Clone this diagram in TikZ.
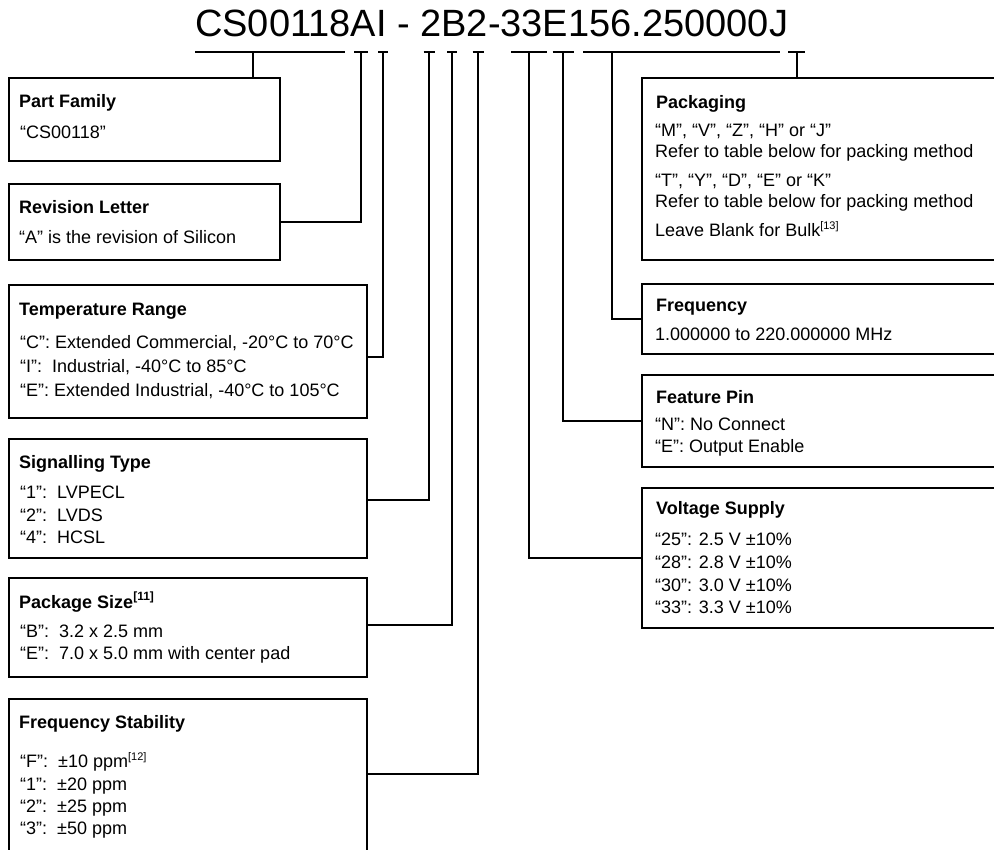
\documentclass[tikz,border=0pt]{standalone}
\usepackage{fontspec}
\setmainfont{Liberation Sans}
\newcommand{\supnote}[1]{\raisebox{7pt}{\fontsize{11}{11}\selectfont #1}}
\begin{document}
\begin{tikzpicture}[x=1pt,y=-1pt]
\tikzset{
  lbl/.style={anchor=base west, inner sep=0pt, font=\fontsize{18}{20}\selectfont},
  ttl/.style={anchor=base west, inner sep=0pt, font=\fontsize{18}{20}\selectfont\bfseries},
  frame/.style={draw, line width=1.8pt, inner sep=0pt, anchor=north west, fill=none},
  wire/.style={line width=1.6pt}
}
\clip (0,0) rectangle (994,850);
\fill[white] (0,0) rectangle (994,850);
% title
\node[anchor=base west, inner sep=0pt, font=\fontsize{38}{40}\selectfont] (title) at (195,37) {CS00118AI - 2B2-33E156.250000J};
% boxes
\node[frame, minimum width=271pt, minimum height=83pt] (pf) at (8,77) {};
\node[frame, minimum width=271pt, minimum height=76pt] (rl) at (8,183) {};
\node[frame, minimum width=358pt, minimum height=133pt] (tr) at (8,284) {};
\node[frame, minimum width=358pt, minimum height=119pt] (st) at (8,438) {};
\node[frame, minimum width=358pt, minimum height=99pt] (ps) at (8,577) {};
\node[frame, minimum width=358pt, minimum height=180pt] (fs) at (8,698) {};
\node[frame, minimum width=380pt, minimum height=182pt] (pk) at (641,77) {};
\node[frame, minimum width=380pt, minimum height=70pt] (fr) at (641,283) {};
\node[frame, minimum width=380pt, minimum height=92pt] (fp) at (641,374) {};
\node[frame, minimum width=380pt, minimum height=140pt] (vs) at (641,487) {};
% tick coordinates
\coordinate (pfL) at (195,52); \coordinate (pfR) at (345,52); \coordinate (pfK) at (253,52);
\coordinate (aK) at (361,52);
\coordinate (iK) at (383,52);
\coordinate (sK) at (429,52);
\coordinate (bK) at (452,52);
\coordinate (fsK) at (478,52);
\coordinate (vK) at (529,52);
\coordinate (eK) at (563,52);
\coordinate (frL) at (583,52); \coordinate (frR) at (780,52); \coordinate (frK) at (612,52);
\coordinate (jK) at (797,52);
% bars
\draw[wire] (pfL) -- (pfR);
\draw[wire] ([xshift=-7pt]aK) -- ([xshift=7pt]aK);
\draw[wire] ([xshift=-5pt]iK) -- ([xshift=5pt]iK);
\draw[wire] ([xshift=-5.5pt]sK) -- ([xshift=5.5pt]sK);
\draw[wire] ([xshift=-5pt]bK) -- ([xshift=5pt]bK);
\draw[wire] ([xshift=-5.5pt]fsK) -- ([xshift=5.5pt]fsK);
\draw[wire] ([xshift=-18pt]vK) -- ([xshift=18pt]vK);
\draw[wire] ([xshift=-10.5pt]eK) -- ([xshift=10.5pt]eK);
\draw[wire] (frL) -- (frR);
\draw[wire] ([xshift=-9pt]jK) -- ([xshift=8pt]jK);
% connectors
\draw[wire] (pfK) -- (pfK |- pf.north);
\draw[wire] (aK) |- (rl.east);
\draw[wire] (iK) |- ([yshift=-5.5pt]tr.east);
\draw[wire] (sK) |- ([yshift=-1.5pt]st.east);
\draw[wire] (bK) |- ([yshift=2.5pt]ps.east);
\draw[wire] (fsK) |- ([yshift=15pt]fs.east);
\draw[wire] (vK) |- (vs.west);
\draw[wire] (eK) |- (fp.west);
\draw[wire] (frK) |- (fr.west);
\draw[wire] (jK) -- (jK |- pk.north);
% left texts
\node[ttl] (pf-t) at (19,108) {Part Family};
\node[lbl] (pf-1) at (20,139) {“CS00118”};
\node[ttl] (rl-t) at (19,214) {Revision Letter};
\node[lbl] (rl-1) at (19,244) {“A” is the revision of Silicon};
\node[ttl] (tr-t) at (19,316) {Temperature Range};
\node[lbl] (tr-1) at (20,349) {“C”: Extended Commercial, -20°C to 70°C};
\node[lbl] (tr-2) at (20,373) {“I”:\ \ Industrial, -40°C to 85°C};
\node[lbl] (tr-3) at (20,397) {“E”: Extended Industrial, -40°C to 105°C};
\node[ttl] (st-t) at (19,468) {Signalling Type};
\node[lbl] (st-1) at (20,498) {“1”:\ \ LVPECL};
\node[lbl] (st-2) at (20,521) {“2”:\ \ LVDS};
\node[lbl] (st-3) at (20,543) {“4”:\ \ HCSL};
\node[ttl] (ps-t) at (19,608) {Package Size\raisebox{8pt}{\fontsize{12}{12}\selectfont\bfseries [11]}};
\node[lbl] (ps-1) at (20,637) {“B”:\ \ 3.2 x 2.5 mm};
\node[lbl] (ps-2) at (20,659) {“E”:\ \ 7.0 x 5.0 mm with center pad};
\node[ttl] (fs-t) at (19,728) {Frequency Stability};
\node[lbl] (fs-1) at (20,767) {“F”:\ \ ±10 ppm\supnote{[12]}};
\node[lbl] (fs-2) at (20,790) {“1”:\ \ ±20 ppm};
\node[lbl] (fs-3) at (20,812) {“2”:\ \ ±25 ppm};
\node[lbl] (fs-4) at (20,834) {“3”:\ \ ±50 ppm};
% right texts
\node[ttl] (pk-t) at (656,109) {Packaging};
\node[lbl] (pk-1) at (655,137) {“M”, “V”, “Z”, “H” or “J”};
\node[lbl] (pk-2) at (655,158) {Refer to table below for packing method};
\node[lbl] (pk-3) at (655,187) {“T”, “Y”, “D”, “E” or “K”};
\node[lbl] (pk-4) at (655,208) {Refer to table below for packing method};
\node[lbl] (pk-5) at (655,237) {Leave Blank for Bulk\supnote{[13]}};
\node[ttl] (fr-t) at (656,312) {Frequency};
\node[lbl] (fr-1) at (655,341) {1.000000 to 220.000000 MHz};
\node[ttl] (fp-t) at (656,403) {Feature Pin};
\node[lbl] (fp-1) at (655,431) {“N”: No Connect};
\node[lbl] (fp-2) at (655,453) {“E”: Output Enable};
\node[ttl] (vs-t) at (656,514) {Voltage Supply};
\node[lbl] (vs-1) at (655,545) {“25”: 2.5 V ±10\%};
\node[lbl] (vs-2) at (655,568) {“28”: 2.8 V ±10\%};
\node[lbl] (vs-3) at (655,591) {“30”: 3.0 V ±10\%};
\node[lbl] (vs-4) at (655,613) {“33”: 3.3 V ±10\%};
\end{tikzpicture}
\end{document}
